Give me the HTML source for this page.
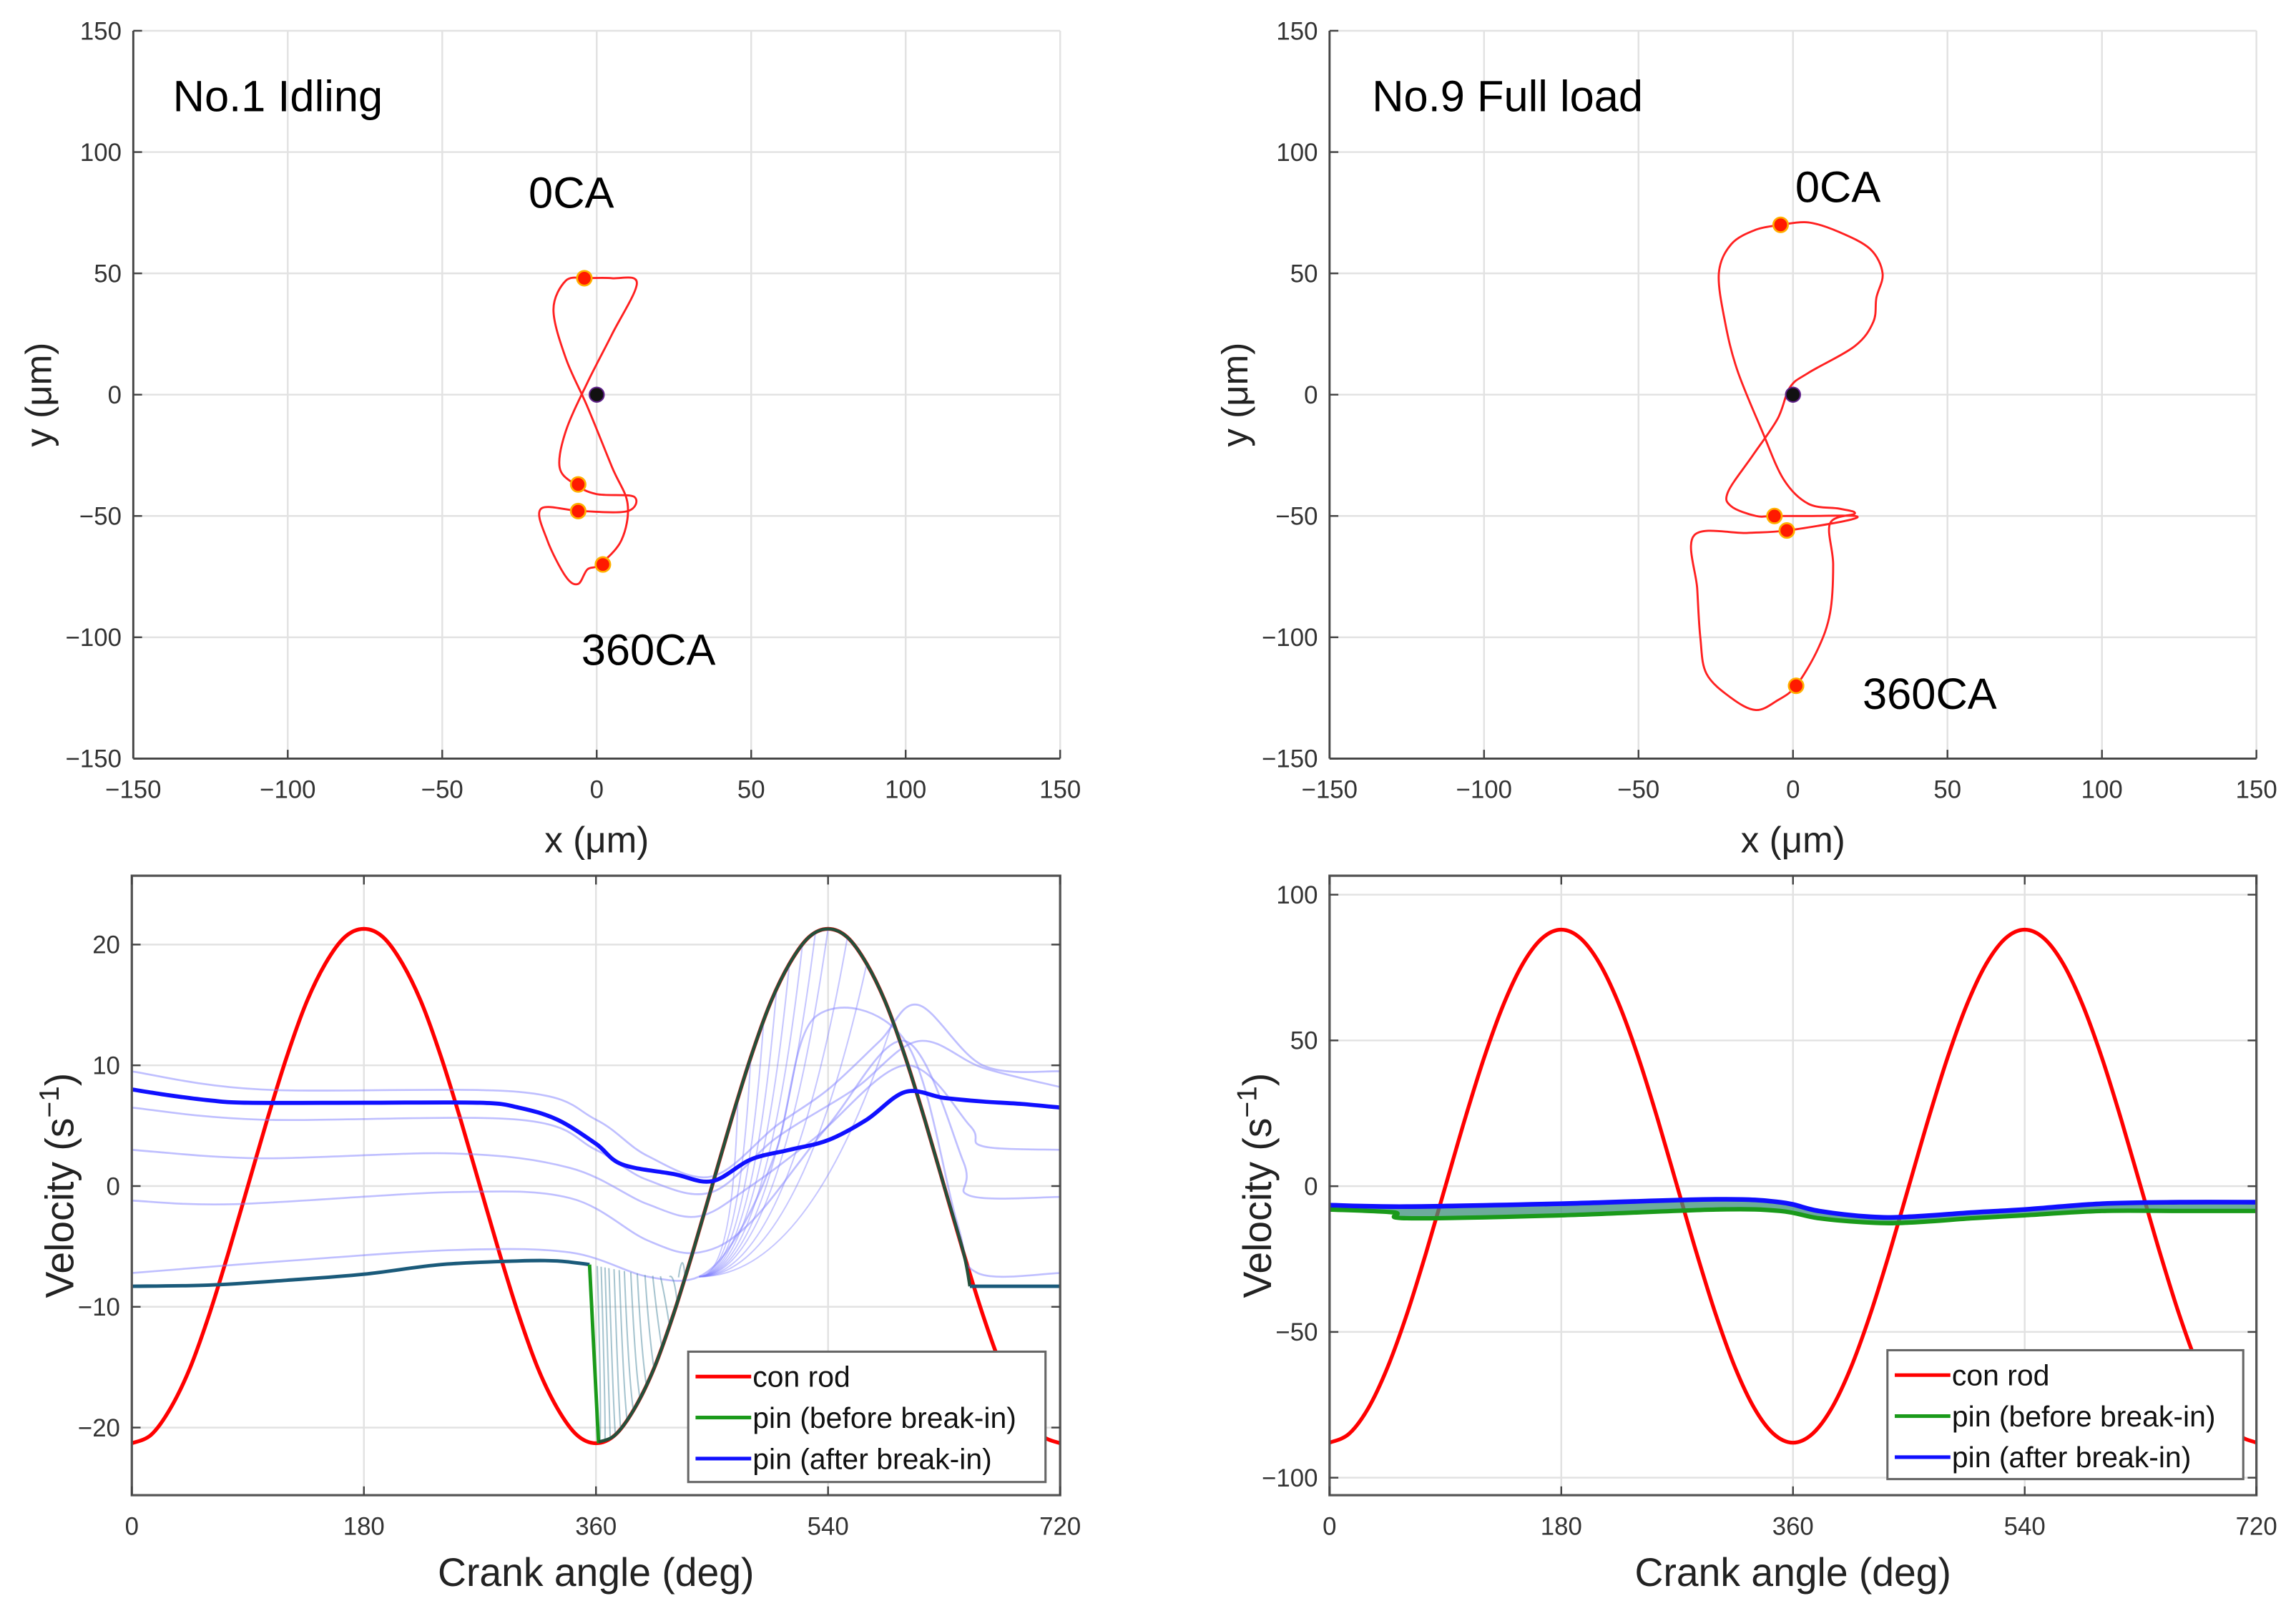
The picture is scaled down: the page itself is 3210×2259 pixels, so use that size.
<!DOCTYPE html>
<html><head><meta charset="utf-8">
<style>
html,body{margin:0;padding:0;background:#fff;}
svg{display:block;}
.tk{font-family:"Liberation Sans Narrow","Liberation Sans",sans-serif;font-size:17px;fill:#333;}
.al{font-family:"Liberation Sans",sans-serif;font-size:25px;fill:#222;}
.an{font-family:"Liberation Sans",sans-serif;font-size:30px;fill:#000;}
.lg{font-family:"Liberation Sans Narrow","Liberation Sans",sans-serif;font-size:20px;fill:#111;}
</style></head>
<body>
<svg id="fig" width="3210" height="2259" viewBox="0 0 1568 1103.5" xmlns="http://www.w3.org/2000/svg"></svg>
<script>
// ---------- DATA ----------
const idleOrbitX = [-4,5,13,5,-3,-10,-12,-7,0,12,10,-5,-18,-16,-10,-6,-3,1,8,10,5,-3,-10,-14,-10,-4];
const idleOrbitY = [48,48,46,25,5,-15,-30,-37,-41,-42,-48,-48,-47,-60,-75,-78,-72,-70,-60,-45,-30,-5,15,35,47,48];
const idleMarkX = [-4,-6,-6,2];
const idleMarkY = [48,-37,-48,-70];
const fullOrbitX = [-4,5,15,25,29,27,26,20,5,-1,-5,-13,-21,-20,-12,-6,5,20,17,-2,-15,-32,-31,-30,-28,-20,-12,-5,1,8,12,13,12,20,15,5,-3,-10,-18,-22,-24,-20,-12,-4];
const fullOrbitY = [70,71,67,60,50,40,30,20,9,3,-10,-25,-40,-46,-50,-50,-50,-50,-52,-56,-57,-58,-80,-100,-115,-125,-130,-126,-120,-105,-90,-70,-53,-49,-47,-45,-35,-15,10,30,50,62,68,70];
const fullMarkX = [-4,-6,-2,1];
const fullMarkY = [70,-50,-56,-120];
const orbitTicks = [-150,-100,-50,0,50,100,150];
const orbitTickLabels = ["\u2212150","\u2212100","\u221250","0","50","100","150"];

const angleTicks = [0,180,360,540,720];
const angleTickLabels = ["0","180","360","540","720"];
const conrodAngles = [0,15,30,45,60,75,90,105,120,135,150,165,180,195,210,225,240,255,270,285,300,315,330,345,360,375,390,405,420,435,450,465,480,495,510,525,540,555,570,585,600,615,630,645,660,675,690,705,720];
const idleConrod = [-21.3,-20.6,-18.4,-15.1,-10.65,-5.5,0,5.5,10.65,15.1,18.4,20.6,21.3,20.6,18.4,15.1,10.65,5.5,0,-5.5,-10.65,-15.1,-18.4,-20.6,-21.3,-20.6,-18.4,-15.1,-10.65,-5.5,0,5.5,10.65,15.1,18.4,20.6,21.3,20.6,18.4,15.1,10.65,5.5,0,-5.5,-10.65,-15.1,-18.4,-20.6,-21.3];
const fullConrod = [-88,-85,-76.2,-62.2,-44,-22.8,0,22.8,44,62.2,76.2,85,88,85,76.2,62.2,44,22.8,0,-22.8,-44,-62.2,-76.2,-85,-88,-85,-76.2,-62.2,-44,-22.8,0,22.8,44,62.2,76.2,85,88,85,76.2,62.2,44,22.8,0,-22.8,-44,-62.2,-76.2,-85,-88];

const idleAfterA = [0,30,60,90,180,270,300,330,360,380,420,450,480,510,540,570,600,630,660,690,720];
const idleAfter  = [8.0,7.5,7.1,6.9,6.9,6.9,6.5,5.5,3.5,1.8,1.0,0.4,2.2,3.0,3.8,5.5,7.8,7.3,7.0,6.8,6.5];
const idleBeforeFlatA = [0,60,120,180,240,300,330,355];
const idleBeforeFlat  = [-8.3,-8.2,-7.8,-7.3,-6.5,-6.2,-6.2,-6.5];
const idleBeforeDropA = [355,362];
const idleBeforeDrop  = [-6.5,-21.3];
const idleBeforeRiseA = [362,375,390,405,420,435,450,465,480,495,510,525,540,555,570,585,600,615,630,645,650];
const idleBeforeRise  = [-21.2,-20.6,-18.4,-15.1,-10.65,-5.5,0,5.5,10.65,15.1,18.4,20.6,21.3,20.6,18.4,15.1,10.65,5.5,0,-5.5,-8.3];
const idleBeforeEndA = [650,685,720];
const idleBeforeEnd  = [-8.3,-8.3,-8.3];

const thinA_A = [0,100,300,360,400,450,500,540,580,610,660,720];
const thinA_V = [9.5,8.0,7.8,5.5,2.5,0.8,5,8,12,15,10,9.5];
const thinB_A = [0,100,300,360,400,450,500,560,610,660,720];
const thinB_V = [6.5,5.5,5.5,3,0.5,-0.5,4,8,12,9.8,8.2];
const thinC_A = [0,100,250,340,400,440,480,530,600,650,660,720];
const thinC_V = [3,2.3,2.7,1.5,-1.5,-2.5,0,4,10,5,3.3,3.0];
const thinD_A = [0,80,250,340,400,440,480,540,600,645,650,720];
const thinD_V = [-1.2,-1.5,-0.5,-1,-4.5,-5.5,-3,5,12,2,-0.8,-0.9];
const thinE_A = [0,120,250,340,400,440,470,500,530,600,640,656,720];
const thinE_V = [-7.2,-6.2,-5.3,-5.5,-7.5,-7.5,-4,3,14,12,-3,-7.2,-7.2];
const fanStart = [361,364,367,370,374,378,382,387,392,398,404,410,417,424];
const fanEnd   = [363,367,371,375,379,384,389,394,399,405,411,417,423,429];
const fanUpEnd = [470,480,490,500,510,520,530,540,555,570,590];

const fullAfterA = [0,60,180,300,350,380,420,450,500,540,600,660,720];
const fullAfter  = [-6.5,-7,-6,-4.5,-5.5,-8.5,-10.5,-10.5,-9,-8,-6,-5.5,-5.5];
const fullBeforeA = [0,50,60,180,300,350,380,420,450,500,540,600,660,720];
const fullBefore  = [-8,-9,-11,-10,-8,-8.5,-11,-12.5,-12.5,-11,-10,-8.5,-8.5,-8.5];

// ---------- HELPERS ----------
const NS="http://www.w3.org/2000/svg";
const svg=document.getElementById('fig');
function mk(tag,attrs,parent){const e=document.createElementNS(NS,tag);for(const k in attrs)e.setAttribute(k,attrs[k]);(parent||svg).appendChild(e);return e;}
function smooth(pts){
  if(pts.length<2)return '';
  let d='M'+pts[0][0].toFixed(2)+','+pts[0][1].toFixed(2);
  const n=pts.length;
  for(let i=0;i<n-1;i++){
    const p0=pts[i-1]||pts[i],p1=pts[i],p2=pts[i+1],p3=pts[i+2]||p2;
    const t=1/6;
    const c1=[p1[0]+(p2[0]-p0[0])*t,p1[1]+(p2[1]-p0[1])*t];
    const c2=[p2[0]-(p3[0]-p1[0])*t,p2[1]-(p3[1]-p1[1])*t];
    d+='C'+c1[0].toFixed(2)+','+c1[1].toFixed(2)+' '+c2[0].toFixed(2)+','+c2[1].toFixed(2)+' '+p2[0].toFixed(2)+','+p2[1].toFixed(2);
  }
  return d;
}
function interp(xs,ys,x){for(let i=0;i<xs.length-1;i++){if(x>=xs[i]&&x<=xs[i+1]){const f=(x-xs[i])/(xs[i+1]-xs[i]);return ys[i]+f*(ys[i+1]-ys[i]);}}return ys[ys.length-1];}
function axes(x0,x1,y0,y1,xmin,xmax,ymin,ymax){
  return {sx:v=>x0+(v-xmin)/(xmax-xmin)*(x1-x0), sy:v=>y1-(v-ymin)/(ymax-ymin)*(y1-y0), x0,x1,y0,y1};
}

// ---------- ORBIT PLOT ----------
function orbitPlot(name,x0,x1,y0,y1,ox,oy,mx,my,title,tpos,l0,l360){
  const g=mk('g',{});
  
  
  const A=axes(x0,x1,y0,y1,-150,150,-150,150);
  orbitTicks.forEach((t,i)=>{
    const gx=mk('line',{x1:A.sx(t),x2:A.sx(t),y1:y0,y2:y1,stroke:'#e2e2e2','stroke-width':1.2},g);
    
    const gy=mk('line',{x1:x0,x2:x1,y1:A.sy(t),y2:A.sy(t),stroke:'#e2e2e2','stroke-width':1.2},g);
    
  });
  mk('line',{x1:x0,x2:x0,y1:y0,y2:y1,stroke:'#444','stroke-width':1.4},g);
  mk('line',{x1:x0,x2:x1,y1:y1,y2:y1,stroke:'#444','stroke-width':1.4},g);
  orbitTicks.forEach((t,i)=>{
    mk('line',{x1:A.sx(t),x2:A.sx(t),y1:y1,y2:y1-6,stroke:'#444','stroke-width':1.2},g);
    mk('line',{x1:x0,x2:x0+6,y1:A.sy(t),y2:A.sy(t),stroke:'#444','stroke-width':1.2},g);
    const tx=mk('text',{x:A.sx(t),y:y1+27,'text-anchor':'middle',class:'tk'},g);tx.textContent=orbitTickLabels[i];
    
    const ty=mk('text',{x:x0-8,y:A.sy(t)+6,'text-anchor':'end',class:'tk'},g);ty.textContent=orbitTickLabels[i];
    
  });
  const pts=ox.map((v,i)=>[A.sx(v),A.sy(oy[i])]);
  const p=mk('path',{d:smooth(pts),fill:'none',stroke:'#ff2020','stroke-width':1.4},g);
  
  mx.forEach((v,i)=>{
    const c=mk('circle',{cx:A.sx(v),cy:A.sy(my[i]),r:5,fill:'#ff1a00',stroke:'#ffb000','stroke-width':1.3},g);
    
  });
  const cc=mk('circle',{cx:A.sx(0),cy:A.sy(0),r:5,fill:'#111',stroke:'#60208a','stroke-width':1},g);
  
  const tt=mk('text',{x:tpos[0],y:tpos[1],class:'an'},g);tt.textContent=title;
  
  const a0=mk('text',{x:l0[0],y:l0[1],class:'an'},g);a0.textContent='0CA';
  
  const a3=mk('text',{x:l360[0],y:l360[1],class:'an'},g);a3.textContent='360CA';
  
  const xl=mk('text',{x:(x0+x1)/2,y:y1+64,'text-anchor':'middle',class:'al'},g);xl.textContent='x (\u03bcm)';
  
  const yl=mk('text',{x:0,y:0,'text-anchor':'middle',class:'al',transform:`translate(${x0-56},${(y0+y1)/2}) rotate(-90)`},g);yl.textContent='y (\u03bcm)';
  
}
orbitPlot('orbit-idling',91,724,21,518,idleOrbitX,idleOrbitY,idleMarkX,idleMarkY,'No.1 Idling',[118,76],[361,142],[397,454]);
orbitPlot('orbit-full-load',908,1541,21,518,fullOrbitX,fullOrbitY,fullMarkX,fullMarkY,'No.9 Full load',[937,76],[1226,138],[1272,484]);

// ---------- VELOCITY PLOT ----------
function velPlot(name,x0,x1,y0,y1,ymin,ymax,yTicks,yLabels,draw,leg){
  const g=mk('g',{});
  
  
  const A=axes(x0,x1,y0,y1,0,720,ymin,ymax);
  angleTicks.forEach(t=>{const l=mk('line',{x1:A.sx(t),x2:A.sx(t),y1:y0,y2:y1,stroke:'#e2e2e2','stroke-width':1.2},g);
    });
  yTicks.forEach(t=>{const l=mk('line',{x1:x0,x2:x1,y1:A.sy(t),y2:A.sy(t),stroke:'#e2e2e2','stroke-width':1.2},g);
    });
  const cp=mk('clipPath',{id:name+'-clip'},g);
  mk('rect',{x:x0,y:y0,width:x1-x0,height:y1-y0},cp);
  const cg=mk('g',{'clip-path':`url(#${name}-clip)`},g);
  draw(A,cg);
  mk('rect',{x:x0,y:y0,width:x1-x0,height:y1-y0,fill:'none',stroke:'#555','stroke-width':1.6},g);
  angleTicks.forEach((t,i)=>{
    mk('line',{x1:A.sx(t),x2:A.sx(t),y1:y1,y2:y1-6,stroke:'#444','stroke-width':1.2},g);
    mk('line',{x1:A.sx(t),x2:A.sx(t),y1:y0,y2:y0+6,stroke:'#444','stroke-width':1.2},g);
    const tx=mk('text',{x:A.sx(t),y:y1+27,'text-anchor':'middle',class:'tk'},g);tx.textContent=angleTickLabels[i];
    
  });
  yTicks.forEach((t,i)=>{
    mk('line',{x1:x0,x2:x0+6,y1:A.sy(t),y2:A.sy(t),stroke:'#444','stroke-width':1.2},g);
    mk('line',{x1:x1,x2:x1-6,y1:A.sy(t),y2:A.sy(t),stroke:'#444','stroke-width':1.2},g);
    const ty=mk('text',{x:x0-8,y:A.sy(t)+6,'text-anchor':'end',class:'tk'},g);ty.textContent=yLabels[i];
    
  });
  const xl=mk('text',{x:(x0+x1)/2,y:y1+62,'text-anchor':'middle',class:'al',style:'font-size:27px'},g);xl.textContent='Crank angle (deg)';
  
  const yl=mk('text',{x:0,y:0,'text-anchor':'middle',class:'al',style:'font-size:27px',transform:`translate(${x0-40},${(y0+y1)/2}) rotate(-90)`},g);
  yl.innerHTML='Velocity (s<tspan dy="-10" font-size="19">\u22121</tspan><tspan dy="10">)</tspan>';
  
  const lg=mk('g',{},g);
  mk('rect',{x:leg[0],y:leg[1],width:leg[2],height:leg[3],fill:'#fff',stroke:'#666','stroke-width':1.5},lg);
  const items=[['con rod','#ff0000'],['pin (before break-in)','#1a9a1a'],['pin (after break-in)','#1010ff']];
  items.forEach((it,i)=>{
    const yy=leg[1]+17+i*28;
    const e=mk('g',{},lg);
    mk('line',{x1:leg[0]+5,x2:leg[0]+43,y1:yy,y2:yy,stroke:it[1],'stroke-width':2.5},e);
    const t=mk('text',{x:leg[0]+44,y:yy+7,class:'lg'},e);t.textContent=it[0];
  });
}
function series(A,xs,ys,parent,attrs,name){
  const pts=xs.map((v,i)=>[A.sx(v),A.sy(ys[i])]);
  const p=mk('path',Object.assign({d:smooth(pts),fill:'none'},attrs),parent);
  
  return p;
}
velPlot('velocity-idling',90,724,598,1021,-25.6,25.7,[-20,-10,0,10,20],['\u221220','\u221210','0','10','20'],(A,g)=>{
  series(A,conrodAngles,idleConrod,g,{stroke:'#ff0000','stroke-width':2.6},'con-rod-line');
  [[thinA_A,thinA_V],[thinB_A,thinB_V],[thinC_A,thinC_V],[thinD_A,thinD_V],[thinE_A,thinE_V]].forEach(s=>{
    series(A,s[0],s[1],g,{stroke:'#8080ff','stroke-opacity':0.5,'stroke-width':1.3},'pin-intermediate-line');
  });
  // shaded fan between drop and red curve
  fanStart.forEach((s,i)=>{
    const sx=A.sx(s),sy=A.sy(interp([300,360,400,430],[-6.2,-6.6,-7.4,-7.6],s));
    const e=fanEnd[i];const ex=A.sx(e),ey=A.sy(interp(conrodAngles,idleConrod,e));
    const f=mk('path',{d:`M${sx},${sy}Q${sx+3},${ey-20} ${ex},${ey}`,fill:'none',stroke:'#4d8aa0','stroke-opacity':0.5,'stroke-width':1},g);
    
  });
  fanUpEnd.forEach(e=>{
    const sx=A.sx(440),sy=A.sy(-7.5);const ex=A.sx(e),ey=A.sy(interp(conrodAngles,idleConrod,e));
    const f=mk('path',{d:`M${sx},${sy}Q${(sx+ex)/2+10},${sy} ${ex},${ey}`,fill:'none',stroke:'#8080ff','stroke-opacity':0.45,'stroke-width':1},g);
    
  });
  series(A,idleBeforeFlatA,idleBeforeFlat,g,{stroke:'#1a5a7a','stroke-width':2.4},'pin-before-line-flat');
  const dp=mk('polyline',{points:idleBeforeDropA.map((a,i)=>A.sx(a)+','+A.sy(idleBeforeDrop[i])).join(' '),fill:'none',stroke:'#1a9a1a','stroke-width':2.4},g);
  
  series(A,idleBeforeRiseA,idleBeforeRise,g,{stroke:'#24503a','stroke-width':2.2},'pin-before-line-rise');
  series(A,idleBeforeEndA,idleBeforeEnd,g,{stroke:'#1a5a7a','stroke-width':2.4},'pin-before-line-end');
  series(A,idleAfterA,idleAfter,g,{stroke:'#1010ff','stroke-width':2.8},'pin-after-line');
},[470,923,244,89]);

velPlot('velocity-full-load',908,1541,598,1021,-106,106.5,[-100,-50,0,50,100],['\u2212100','\u221250','0','50','100'],(A,g)=>{
  series(A,conrodAngles,fullConrod,g,{stroke:'#ff0000','stroke-width':2.6},'con-rod-line');
  const top=fullAfterA.map((v,i)=>[A.sx(v),A.sy(fullAfter[i])]);
  const bot=fullBeforeA.map((v,i)=>[A.sx(v),A.sy(fullBefore[i])]).reverse();
  const band=mk('path',{d:smooth(top)+'L'+smooth(bot).slice(1)+'Z',fill:'#3c8f7a','fill-opacity':0.75,stroke:'none'},g);
  
  series(A,fullBeforeA,fullBefore,g,{stroke:'#1a9a1a','stroke-width':3},'pin-before-line');
  series(A,fullAfterA,fullAfter,g,{stroke:'#1010ff','stroke-width':3.2},'pin-after-line');
},[1289,922,243,88]);
</script>
</body></html>
